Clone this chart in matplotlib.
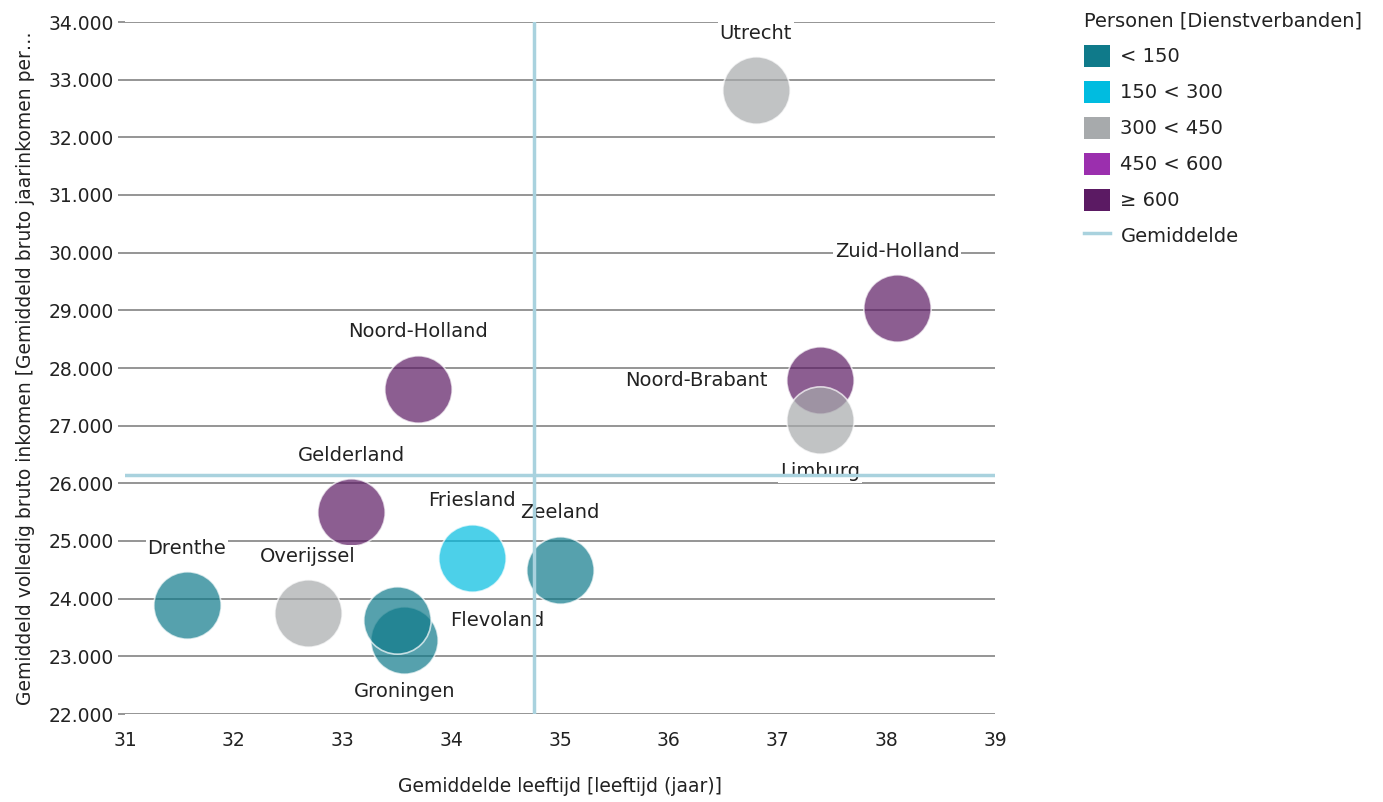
import matplotlib
matplotlib.use('Agg')
import matplotlib.pyplot as plt
from matplotlib.patches import Patch
from matplotlib.lines import Line2D
from matplotlib.ticker import FuncFormatter

# --- DATA ---
provincies = ['Utrecht', 'Zuid-Holland', 'Noord-Brabant', 'Limburg', 'Noord-Holland',
              'Gelderland', 'Friesland', 'Zeeland', 'Drenthe', 'Overijssel',
              'Groningen', 'Flevoland']
leeftijd = [36.80, 38.10, 37.39, 37.39, 33.69, 33.08, 34.19, 35.00, 31.57, 32.68, 33.57, 33.50]
inkomen = [32820, 29040, 27790, 27100, 27640, 25500, 24710, 24500, 23890, 23750, 23280, 23630]
klasse = ['300 < 450', '≥ 600', '≥ 600', '300 < 450', '≥ 600', '≥ 600',
          '150 < 300', '< 150', '< 150', '300 < 450', '< 150', '< 150']
label_pos = ['above', 'above', 'left', 'below', 'above', 'above',
             'above', 'above', 'above', 'above', 'below', 'right']

klassen = ['< 150', '150 < 300', '300 < 450', '450 < 600', '≥ 600']
kleuren = ['#0F7A8A', '#00BCE0', '#A7AAAC', '#9B2FAE', '#5B1A63']

gem_leeftijd = 34.76
gem_inkomen = 26145

x_ticks = [31, 32, 33, 34, 35, 36, 37, 38, 39]
y_ticks = list(range(22000, 34001, 1000))

TXT = '#222222'
plt.rcParams['font.family'] = ['DejaVu Sans']

fig = plt.figure(figsize=(13.83, 8.02), dpi=100)
ax = fig.add_axes([125 / 1383, 88 / 802, 870 / 1383, 692 / 802])

kleur_map = dict(zip(klassen, kleuren))

# gemiddelde lijnen (boven de labels)
ax.axvline(gem_leeftijd, color='#A9D2DE', lw=2.5, zorder=6)
ax.axhline(gem_inkomen, color='#A9D2DE', lw=2.5, zorder=6)

# bubbels (volgorde = tekenvolgorde)
for i, naam in enumerate(provincies):
    ax.scatter(leeftijd[i], inkomen[i], s=2350, color=kleur_map[klasse[i]], alpha=0.7,
               edgecolors='white', linewidths=1.2, zorder=3 + i * 0.01)

# labels
offsets = {'above': (0, 41, 'center', 'center'),
           'below': (0, -37, 'center', 'center'),
           'left': (-38, 0, 'right', 'center'),
           'right': (38, 0, 'left', 'center')}
for i, naam in enumerate(provincies):
    dx, dy, ha, va = offsets[label_pos[i]]
    ax.annotate(naam, (leeftijd[i], inkomen[i]), xytext=(dx, dy), textcoords='offset points',
                ha=ha, va=va, fontsize=14, color=TXT, zorder=5,
                bbox=dict(boxstyle='square,pad=0.1', fc='white', ec='none'))

ax.set_xlim(31, 39)
ax.set_ylim(22000, 34000)
ax.set_xticks(x_ticks)
ax.set_yticks(y_ticks)
ax.yaxis.set_major_formatter(FuncFormatter(lambda v, p: f'{int(v):,}'.replace(',', '.')))
ax.grid(axis='y', color='#8C8C8C', lw=1.3, zorder=1)
ax.set_axisbelow(True)
for s in ax.spines.values():
    s.set_visible(False)
ax.tick_params(axis='y', length=5, color='#8C8C8C', width=1.3, labelsize=13.5, labelcolor=TXT, pad=3)
ax.tick_params(axis='x', length=0, labelsize=13.5, labelcolor=TXT, pad=12)

ax.set_xlabel('Gemiddelde leeftijd [leeftijd (jaar)]', fontsize=13.5, color=TXT, labelpad=20)
ax.set_ylabel('Gemiddeld volledig bruto inkomen [Gemiddeld bruto jaarinkomen per…',
              fontsize=13.5, color=TXT, labelpad=10)

# legenda
handles = [Patch(facecolor=k, edgecolor='none') for k in kleuren]
handles.append(Line2D([0], [0], color='#A9D2DE', lw=2.5))
leg = fig.legend(handles, klassen + ['Gemiddelde'], title='Personen [Dienstverbanden]',
                 loc='upper left', bbox_to_anchor=(1066 / 1383, 1 + 6 / 802),
                 frameon=False, fontsize=14, title_fontsize=14, alignment='left',
                 handlelength=1.35, handleheight=1.35, handletextpad=0.55, labelspacing=0.73)
for t in leg.get_texts():
    t.set_color(TXT)
leg.get_title().set_color(TXT)

fig.savefig('out.png', dpi=100)
